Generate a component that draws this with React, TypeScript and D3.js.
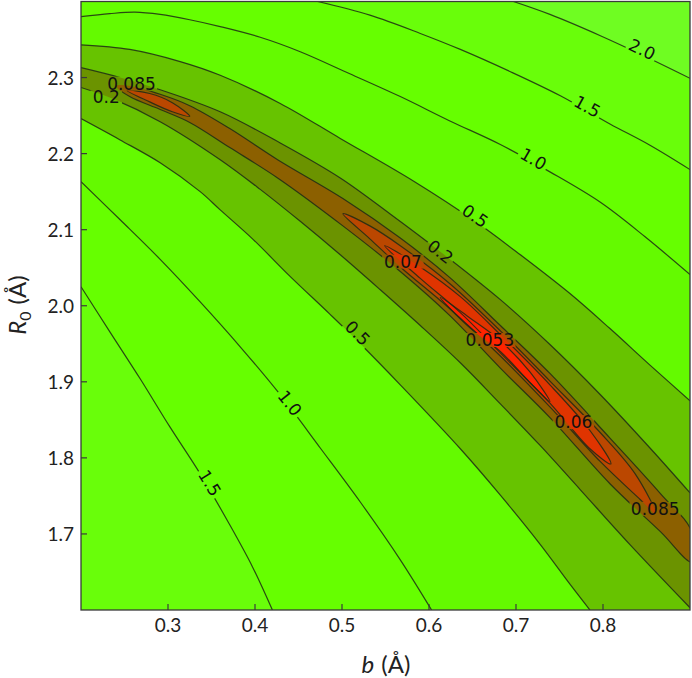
import React from 'react';
import * as d3 from 'd3';

type P = [number, number];

const W = 692;
const H = 678;

const bDomain: P = [0.2, 0.9];
const rDomain: P = [1.6, 2.4];
const xTicks = [0.3, 0.4, 0.5, 0.6, 0.7, 0.8];
const yTicks = [1.7, 1.8, 1.9, 2.0, 2.1, 2.2, 2.3];

// contour lines, [b, R0]
const c20: P[] = [[0.697, 2.4], [0.739, 2.383], [0.797, 2.355], [0.848, 2.328], [0.9, 2.299]];
const c15u: P[] = [[0.472, 2.4], [0.532, 2.382], [0.59, 2.358], [0.636, 2.337], [0.693, 2.308], [0.751, 2.276], [0.808, 2.239], [0.854, 2.211], [0.9, 2.179]];
const c15l: P[] = [[0.2, 2.025], [0.233, 1.966], [0.268, 1.904], [0.302, 1.841], [0.337, 1.779], [0.369, 1.716], [0.397, 1.657], [0.42, 1.6]];
const c10u: P[] = [[0.2, 2.38], [0.233, 2.384], [0.262, 2.386], [0.291, 2.383], [0.325, 2.376], [0.36, 2.367], [0.406, 2.353], [0.452, 2.334], [0.509, 2.305], [0.567, 2.275], [0.624, 2.243], [0.682, 2.212], [0.739, 2.176], [0.797, 2.136], [0.848, 2.091], [0.9, 2.041]];
const c10l: P[] = [[0.2, 2.163], [0.245, 2.113], [0.291, 2.061], [0.337, 2.005], [0.383, 1.946], [0.429, 1.883], [0.475, 1.813], [0.521, 1.742], [0.567, 1.666], [0.603, 1.6]];
const c05u: P[] = [[0.2, 2.343], [0.256, 2.337], [0.314, 2.321], [0.36, 2.303], [0.429, 2.266], [0.498, 2.22], [0.582, 2.164], [0.653, 2.111], [0.705, 2.067], [0.762, 2.016], [0.808, 1.97], [0.854, 1.922], [0.9, 1.875]];
const c05l: P[] = [[0.2, 2.246], [0.245, 2.218], [0.291, 2.188], [0.337, 2.15], [0.36, 2.126], [0.398, 2.087], [0.44, 2.039], [0.486, 1.989], [0.521, 1.95], [0.567, 1.896], [0.636, 1.812], [0.682, 1.751], [0.728, 1.686], [0.762, 1.634], [0.785, 1.6]];
const c02u: P[] = [[0.2, 2.313], [0.245, 2.3], [0.291, 2.284], [0.36, 2.255], [0.429, 2.214], [0.498, 2.168], [0.555, 2.121], [0.613, 2.071], [0.682, 2.008], [0.739, 1.949], [0.797, 1.883], [0.854, 1.813], [0.9, 1.754]];
const c02l: P[] = [[0.2, 2.287], [0.237, 2.272], [0.291, 2.242], [0.36, 2.192], [0.406, 2.153], [0.452, 2.111], [0.498, 2.067], [0.544, 2.021], [0.59, 1.974], [0.636, 1.925], [0.682, 1.871], [0.728, 1.816], [0.774, 1.758], [0.831, 1.686], [0.9, 1.603]];
const c0085: P[] = [[0.24, 2.289], [0.256, 2.289], [0.291, 2.278], [0.325, 2.263], [0.371, 2.233], [0.426, 2.192], [0.501, 2.141], [0.567, 2.089], [0.624, 2.037], [0.682, 1.974], [0.739, 1.911], [0.808, 1.826], [0.866, 1.753], [0.902, 1.703], [0.902, 1.663], [0.866, 1.703], [0.808, 1.766], [0.739, 1.853], [0.682, 1.918], [0.624, 1.987], [0.567, 2.045], [0.501, 2.105], [0.426, 2.168], [0.371, 2.208], [0.325, 2.241], [0.291, 2.258], [0.256, 2.275]];
const c007a: P[] = [[0.253, 2.283], [0.279, 2.279], [0.305, 2.267], [0.325, 2.249], [0.305, 2.255], [0.279, 2.268]];
const c007b: P[] = [[0.501, 2.121], [0.532, 2.105], [0.567, 2.079], [0.624, 2.029], [0.682, 1.967], [0.739, 1.901], [0.797, 1.833], [0.837, 1.779], [0.861, 1.726], [0.843, 1.745], [0.797, 1.795], [0.739, 1.867], [0.682, 1.934], [0.624, 1.996], [0.567, 2.051], [0.532, 2.088]];
const c006: P[] = [[0.549, 2.079], [0.59, 2.051], [0.636, 2.012], [0.682, 1.962], [0.739, 1.896], [0.785, 1.836], [0.809, 1.792], [0.785, 1.812], [0.739, 1.872], [0.682, 1.938], [0.636, 1.991], [0.59, 2.036]];
const c0053: P[] = [[0.613, 2.011], [0.647, 1.984], [0.682, 1.954], [0.716, 1.913], [0.739, 1.874], [0.716, 1.899], [0.682, 1.94], [0.647, 1.971]];

// contour labels: text, b, R0, line it follows (null = horizontal)
const labelTexts = ['2.0', '1.5', '1.0', '0.5', '0.2', '0.5', '1.0', '1.5', '0.085', '0.2', '0.07', '0.053', '0.06', '0.085'];
const labelB = [0.845, 0.782, 0.72, 0.653, 0.613, 0.518, 0.44, 0.348, 0.258, 0.229, 0.57, 0.67, 0.766, 0.86];
const labelR = [2.337, 2.262, 2.193, 2.118, 2.071, 1.964, 1.872, 1.767, 2.292, 2.274, 2.058, 1.955, 1.847, 1.733];
const labelLines: (P[] | null)[] = [c20, c15u, c10u, c05u, c02u, c05l, c10l, c15l, null, null, null, null, null, null];

const bandColors = {
  above20: '#6ffd22',
  b15_20: '#69fe0a',
  b10_15: '#66ff00',
  b05_10: '#64fa00',
  b02_05: '#67c300',
  b0085_02: '#6b9300',
  b007_0085: '#8c6000',
  b006_007: '#bb4700',
  b0053_006: '#e03400',
  below0053: '#ff2400',
};

export default function App() {
  const left = 81, right = 690, top = 1.5, bottom = 610;
  const x = d3.scaleLinear().domain(bDomain).range([left, right]);
  const y = d3.scaleLinear().domain(rDomain).range([bottom, top]);
  const line = d3.line<P>().x(d => x(d[0])).y(d => y(d[1])).curve(d3.curveCatmullRom.alpha(0.5));
  const loop = d3.line<P>().x(d => x(d[0])).y(d => y(d[1])).curve(d3.curveCatmullRomClosed.alpha(0.5));
  const L = (b: number, r: number) => `L${x(b)},${y(r)}`;
  const rev = (a: P[]) => 'L' + (line(a.slice().reverse()) as string).slice(1);

  const [b0, b1] = bDomain;
  const [r0, r1] = rDomain;
  const reg20 = line(c20) + L(b1, r0) + L(b0, r0) + L(b0, r1) + 'Z';
  const reg15 = line(c15u) + L(b1, r0) + rev(c15l) + L(b0, r1) + 'Z';
  const reg10 = line(c10u) + L(b1, r0) + rev(c10l) + 'Z';
  const reg05 = line(c05u) + L(b1, r0) + rev(c05l) + 'Z';
  const reg02 = line(c02u) + rev(c02l) + 'Z';

  const openLines = [c20, c15u, c15l, c10u, c10l, c05u, c05l, c02u, c02l];
  const loops = [c0085, c007a, c007b, c006, c0053];

  const fontLbl = 17;
  const labels = labelTexts.map((t, i) => {
    const px = x(labelB[i]);
    const py = y(labelR[i]);
    let angle = 0;
    const ln = labelLines[i];
    if (ln) {
      let best = 0, bd = Infinity;
      ln.forEach((p, j) => {
        const d = (x(p[0]) - px) ** 2 + (y(p[1]) - py) ** 2;
        if (d < bd) { bd = d; best = j; }
      });
      const a = ln[Math.max(0, best - 1)];
      const c = ln[Math.min(ln.length - 1, best + 1)];
      angle = (Math.atan2(y(c[1]) - y(a[1]), x(c[0]) - x(a[0])) * 180) / Math.PI;
    }
    const w = t.length * fontLbl * 0.58;
    return { t, px, py, angle, w };
  });

  const tickFont = 'Lato, "Open Sans", sans-serif';

  return (
    <div style={{ position: 'fixed', left: 0, top: 0 }}>
      <svg width={W} height={H} viewBox={`0 0 ${W} ${H}`} style={{ display: 'block', background: '#fff' }}>
        <defs>
          <clipPath id="plotclip">
            <rect x={left} y={top} width={right - left} height={bottom - top} />
          </clipPath>
          <mask id="lblmask" maskUnits="userSpaceOnUse" x={0} y={0} width={W} height={H}>
            <rect x={0} y={0} width={W} height={H} fill="white" />
            {labels.map((l, i) => (
              <rect key={i} x={-l.w / 2 - 1} y={-7} width={l.w + 2} height={14} fill="black"
                transform={`translate(${l.px},${l.py}) rotate(${l.angle})`} />
            ))}
          </mask>
        </defs>
        <g clipPath="url(#plotclip)">
          <rect x={left} y={top} width={right - left} height={bottom - top} fill={bandColors.above20} />
          <path d={reg20} fill={bandColors.b15_20} />
          <path d={reg15} fill={bandColors.b10_15} />
          <path d={reg10} fill={bandColors.b05_10} />
          <path d={reg05} fill={bandColors.b02_05} />
          <path d={reg02} fill={bandColors.b0085_02} />
          <path d={loop(c0085) as string} fill={bandColors.b007_0085} />
          <path d={loop(c007a) as string} fill={bandColors.b006_007} />
          <path d={loop(c007b) as string} fill={bandColors.b006_007} />
          <path d={loop(c006) as string} fill={bandColors.b0053_006} />
          <path d={loop(c0053) as string} fill={bandColors.below0053} />
          <g mask="url(#lblmask)" fill="none" stroke="#1e2a14" strokeWidth={1.2} strokeOpacity={0.85}>
            {openLines.map((ln, i) => <path key={'o' + i} d={line(ln) as string} />)}
            {loops.map((ln, i) => <path key={'l' + i} d={loop(ln) as string} />)}
          </g>
          {labels.map((l, i) => (
            <text key={i} transform={`translate(${l.px},${l.py}) rotate(${l.angle})`} textAnchor="middle"
              dominantBaseline="central" fontFamily='"DejaVu Sans", sans-serif' fontSize={fontLbl} fill="#111">
              {l.t}
            </text>
          ))}
        </g>
        <rect x={left} y={top} width={right - left} height={bottom - top} fill="none" stroke="#3a3a3a" strokeWidth={1.3} />
        {xTicks.map(t => (
          <g key={'x' + t}>
            <line x1={x(t)} x2={x(t)} y1={bottom} y2={bottom - 6} stroke="#3a3a3a" strokeWidth={1.2} />
            <text x={x(t)} y={632} textAnchor="middle" fontFamily={tickFont} fontSize={19} fill="#222">{t.toFixed(1)}</text>
          </g>
        ))}
        {yTicks.map(t => (
          <g key={'y' + t}>
            <line x1={left} x2={left + 6} y1={y(t)} y2={y(t)} stroke="#3a3a3a" strokeWidth={1.2} />
            <text x={74} y={y(t)} textAnchor="end" dominantBaseline="central" fontFamily={tickFont} fontSize={19} fill="#222">{t.toFixed(1)}</text>
          </g>
        ))}
        <text x={386} y={673} textAnchor="middle" fontFamily={tickFont} fontSize={24} fill="#222">
          <tspan fontStyle="italic">b</tspan>
          <tspan dx={7}>(Å)</tspan>
        </text>
        <text transform={`translate(26,305) rotate(-90)`} textAnchor="middle" fontFamily={tickFont} fontSize={24} fill="#222">
          <tspan fontStyle="italic">R</tspan>
          <tspan fontSize={16} dy={5}>0</tspan>
          <tspan dy={-5} dx={7}>(Å)</tspan>
        </text>
      </svg>
    </div>
  );
}
